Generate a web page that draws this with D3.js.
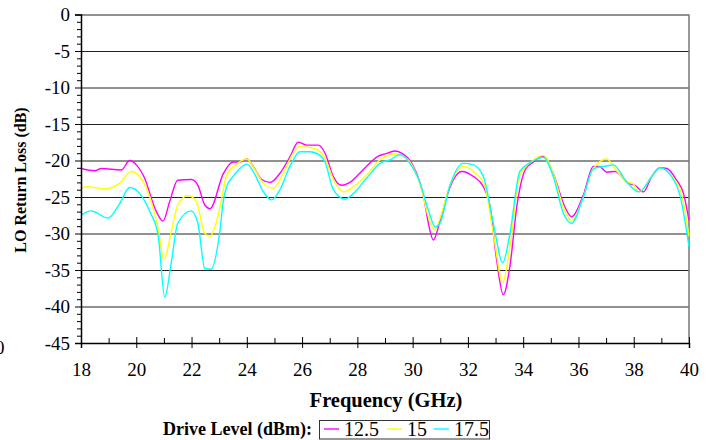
<!DOCTYPE html>
<html>
<head>
<meta charset="utf-8">
<script src="https://cdn.jsdelivr.net/npm/d3@7"></script>
<style>
  html, body { margin: 0; padding: 0; background: #fff; }
  svg { display: block; }
  text { font-family: "Liberation Serif", "Times New Roman", serif; }
</style>
</head>
<body>
<script>
// ---- Data ----
const freqTicks = [18, 20, 22, 24, 26, 28, 30, 32, 34, 36, 38, 40];
const rlTicks = [0, -5, -10, -15, -20, -25, -30, -35, -40, -45];
const seriesNames = ["12.5", "15", "17.5"];
const seriesColors = ["#ff00ff", "#ffff00", "#00ffff"];

const freq12 = [18.0, 18.5, 18.73, 19.46, 19.76, 20.0, 20.3, 20.67, 20.97, 21.21, 21.5, 21.99, 22.23, 22.48, 22.67, 23.15, 23.5, 23.75, 24.0, 24.23, 24.54, 24.84, 25.2, 25.56, 25.86, 26.17, 26.59, 26.83, 27.13, 27.43, 27.73, 28.2, 28.76, 29.0, 29.36, 29.6, 29.97, 30.27, 30.4, 30.57, 30.75, 30.99, 31.23, 31.45, 31.78, 32.2, 32.56, 32.8, 33.04, 33.28, 33.52, 33.77, 34.07, 34.37, 34.73, 35.09, 35.5, 35.75, 36.18, 36.54, 36.76, 37.02, 37.32, 37.8, 38.05, 38.35, 38.65, 38.95, 39.2, 39.55, 39.8, 40.0];
const rl12 = [-21.1, -21.4, -21.1, -21.3, -20.0, -20.6, -22.4, -26.5, -28.3, -25.6, -22.7, -22.6, -23.4, -26.1, -26.6, -21.8, -20.2, -20.2, -19.8, -20.8, -22.6, -23.0, -21.75, -19.5, -17.5, -17.9, -17.9, -19.0, -22.2, -23.4, -23.0, -21.3, -19.4, -19.1, -18.7, -19.0, -20.4, -23.1, -25.0, -28.6, -30.9, -28.3, -25.0, -22.8, -21.5, -22.2, -23.6, -26.3, -33.6, -38.4, -34.5, -26.3, -21.3, -20.2, -19.4, -21.8, -26.3, -27.7, -24.7, -20.8, -20.8, -21.6, -21.5, -23.1, -23.4, -24.3, -22.2, -21.0, -21.1, -22.7, -24.5, -28.2];

const freq15 = [18.0, 18.25, 18.86, 19.4, 19.82, 20.12, 20.49, 20.79, 21.0, 21.27, 21.5, 21.87, 22.17, 22.48, 22.67, 22.9, 23.05, 23.27, 23.63, 24.0, 24.3, 24.6, 24.96, 25.32, 25.68, 25.92, 26.4, 26.77, 27.2, 27.5, 27.86, 28.34, 28.82, 29.36, 29.66, 30.0, 30.33, 30.55, 30.8, 30.99, 31.35, 31.83, 32.2, 32.6, 32.92, 33.26, 33.52, 33.88, 34.25, 34.73, 35.09, 35.45, 35.75, 36.18, 36.54, 37.02, 37.32, 37.74, 37.98, 38.2, 38.65, 38.95, 39.43, 39.74, 40.0];
const rl15 = [-23.8, -23.6, -23.9, -23.1, -21.5, -22.2, -25.0, -29.3, -33.6, -29.7, -26.1, -24.8, -25.6, -30.0, -30.4, -28.4, -26.0, -22.0, -20.5, -19.8, -21.3, -23.1, -23.8, -21.75, -19.0, -18.1, -18.3, -19.3, -23.1, -24.3, -23.6, -22.0, -19.9, -19.1, -19.4, -20.8, -24.0, -27.5, -29.5, -27.9, -23.4, -20.8, -21.5, -23.4, -30.0, -36.7, -31.8, -22.0, -20.3, -19.3, -21.8, -26.3, -28.2, -25.0, -21.1, -19.8, -21.1, -22.9, -23.2, -24.3, -22.2, -21.1, -22.4, -24.7, -30.4];

const freq17 = [18.0, 18.37, 18.98, 19.4, 19.76, 20.12, 20.49, 20.79, 21.03, 21.27, 21.5, 21.99, 22.23, 22.48, 22.7, 23.03, 23.15, 23.27, 23.5, 23.75, 24.0, 24.23, 24.6, 24.9, 25.2, 25.56, 25.92, 26.29, 26.65, 26.83, 27.13, 27.55, 27.86, 28.34, 28.82, 29.18, 29.54, 29.9, 30.27, 30.57, 30.82, 30.99, 31.35, 31.83, 32.2, 32.56, 32.92, 33.26, 33.52, 33.88, 34.25, 34.73, 35.09, 35.45, 35.75, 36.18, 36.54, 37.02, 37.26, 37.74, 38.2, 38.65, 38.95, 39.37, 39.67, 40.0];
const rl17 = [-27.5, -26.9, -27.9, -25.9, -23.7, -24.5, -27.0, -30.2, -38.7, -33.9, -28.6, -26.9, -28.6, -34.8, -34.9, -29.5, -25.5, -23.6, -22.2, -21.1, -20.5, -21.5, -24.3, -25.4, -24.0, -20.8, -18.8, -18.8, -19.3, -20.2, -24.0, -25.3, -24.5, -22.4, -20.4, -19.9, -19.2, -20.4, -23.1, -26.8, -29.1, -28.6, -23.4, -20.4, -20.6, -22.2, -28.6, -34.0, -30.0, -21.5, -20.3, -19.6, -22.2, -27.2, -28.6, -25.0, -21.1, -20.75, -20.6, -22.9, -24.3, -22.2, -21.0, -22.2, -24.7, -31.8];

const seriesFreq = [freq12, freq15, freq17];
const seriesRL = [rl12, rl15, rl17];

// ---- Chart ----
const W = 713, H = 440;
const svg = d3.select("body").append("svg").attr("width", W).attr("height", H);

const x = d3.scaleLinear().domain([18, 40]).range([81, 689]);
const y = d3.scaleLinear().domain([-45, 0]).range([343, 14.5]);
const serifFont = "'Liberation Serif', 'Times New Roman', serif";
const plainNum = d => String(d);

// gridlines
svg.append("g")
  .attr("transform", `translate(${x(18)},0)`)
  .call(d3.axisLeft(y).tickValues(rlTicks).tickSize(-(x(40) - x(18))).tickFormat(""))
  .call(g => g.select(".domain").remove())
  .call(g => g.selectAll("line").attr("stroke", "#222").attr("stroke-width", 1));

// right border
svg.append("line")
  .attr("x1", x(40)).attr("x2", x(40)).attr("y1", y(0)).attr("y2", y(-45))
  .attr("stroke", "#777").attr("stroke-width", 1.5);

// series lines
const line = d3.line().curve(d3.curveMonotoneX);
seriesFreq.forEach((fs, i) => {
  const pts = fs.map((f, j) => [x(f), y(seriesRL[i][j])]);
  svg.append("path")
    .attr("d", line(pts))
    .attr("fill", "none")
    .attr("stroke", seriesColors[i])
    .attr("stroke-width", 1.4);
});

// y minor ticks
const yMinor = d3.range(-45, 1, 1).filter(v => v % 5 !== 0);
svg.append("g")
  .attr("transform", `translate(${x(18)},0)`)
  .call(d3.axisLeft(y).tickValues(yMinor).tickSize(4).tickFormat(""))
  .call(g => g.select(".domain").remove());

// y major axis
svg.append("g")
  .attr("transform", `translate(${x(18)},0)`)
  .call(d3.axisLeft(y).tickValues(rlTicks).tickSize(6).tickPadding(5).tickFormat(plainNum))
  .call(g => g.selectAll("text").attr("font-size", 19).attr("fill", "#000").style("font-family", serifFont))
  .call(g => g.select(".domain").attr("stroke", "#000").attr("stroke-width", 1.5));

// x minor ticks (inside)
const xMinor = d3.range(19, 40, 2);
svg.append("g")
  .attr("transform", `translate(0,${y(-45)})`)
  .call(d3.axisBottom(x).tickValues(xMinor).tickSize(-5).tickFormat(""))
  .call(g => g.select(".domain").remove());

// x major ticks inside part
svg.append("g")
  .attr("transform", `translate(0,${y(-45)})`)
  .call(d3.axisBottom(x).tickValues(freqTicks).tickSize(-6).tickFormat(""))
  .call(g => g.select(".domain").remove());

// x major axis
svg.append("g")
  .attr("transform", `translate(0,${y(-45)})`)
  .call(d3.axisBottom(x).tickValues(freqTicks).tickSize(5).tickPadding(15).tickFormat(plainNum))
  .call(g => g.selectAll("text").attr("font-size", 19).attr("fill", "#000").style("font-family", serifFont))
  .call(g => g.select(".domain").attr("stroke", "#000").attr("stroke-width", 1.5));

// stray clipped label at the far left (partially visible in the reference)
svg.append("text").attr("x", 4.5).attr("y", 354).attr("text-anchor", "end")
  .attr("font-size", 19).text("0");

// axis titles
svg.append("text")
  .attr("transform", "translate(26,180) rotate(-90)")
  .attr("text-anchor", "middle").attr("font-size", 16).attr("font-weight", "bold")
  .text("LO Return Loss (dB)");

svg.append("text")
  .attr("x", 386).attr("y", 407).attr("text-anchor", "middle")
  .attr("font-size", 20.5).attr("font-weight", "bold")
  .text("Frequency (GHz)");

// legend
svg.append("text")
  .attr("x", 163).attr("y", 435).attr("font-size", 18).attr("font-weight", "bold")
  .text("Drive Level (dBm):");

svg.append("rect")
  .attr("x", 319.5).attr("y", 420.5).attr("width", 170).attr("height", 18.5)
  .attr("fill", "#fff").attr("stroke", "#333").attr("stroke-width", 1);

const legX = [324, 387, 434];
seriesNames.forEach((n, i) => {
  svg.append("line")
    .attr("x1", legX[i]).attr("x2", legX[i] + 15).attr("y1", 429).attr("y2", 429)
    .attr("stroke", seriesColors[i]).attr("stroke-width", 1.4);
  svg.append("text")
    .attr("x", legX[i] + 20).attr("y", 435.5).attr("font-size", 20)
    .text(n);
});
</script>
</body>
</html>
